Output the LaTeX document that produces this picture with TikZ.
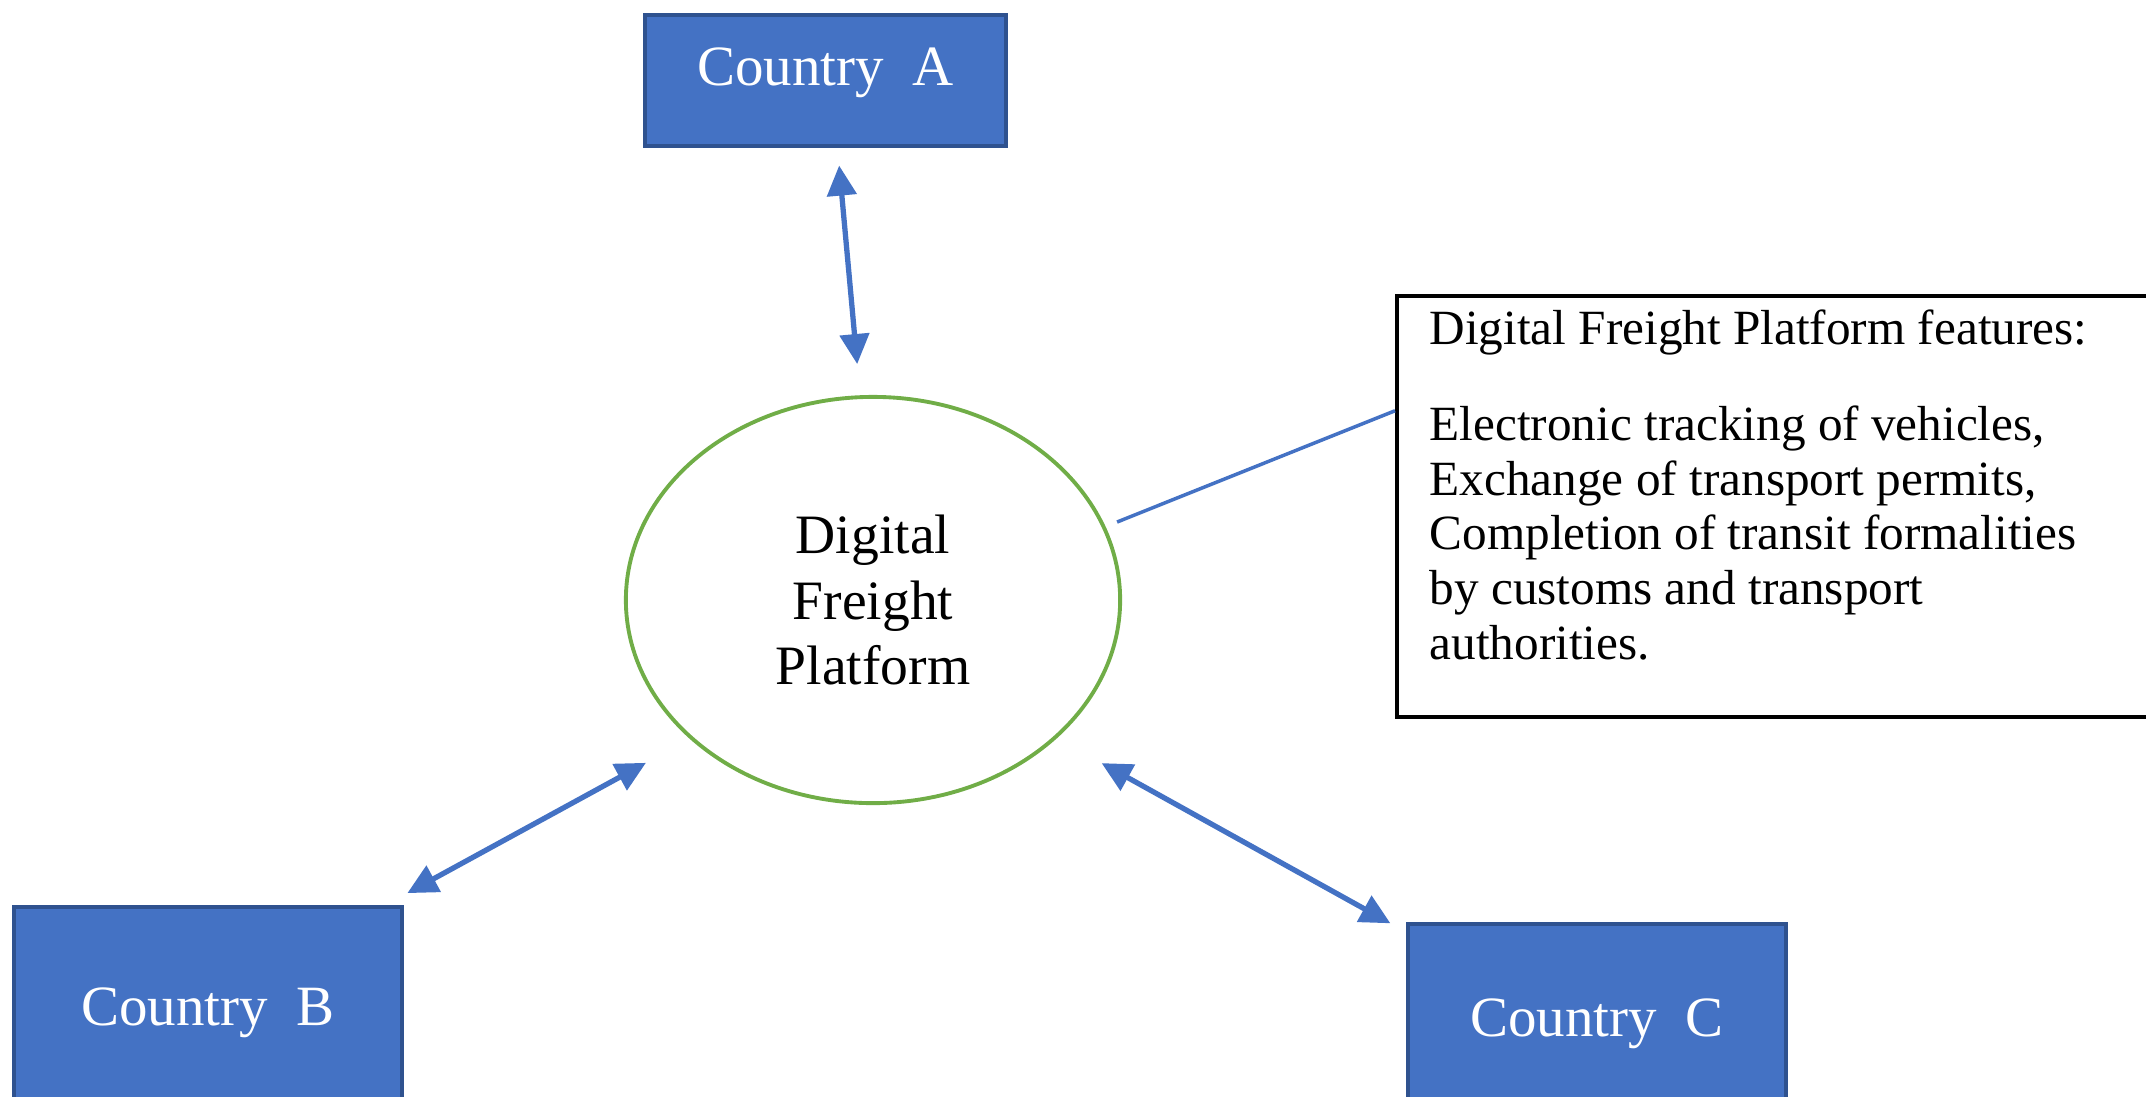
\documentclass[tikz,border=0pt]{standalone}
\usepackage{fontspec}
\setmainfont{Liberation Serif}
\usetikzlibrary{shapes.geometric, arrows.meta}
\definecolor{officeblue}{HTML}{4472C4}
\definecolor{boxline}{HTML}{2F528F}
\definecolor{platgreen}{HTML}{70AD47}

\begin{document}
\begin{tikzpicture}[x=0.01cm, y=-0.01cm,
  country/.style={draw=boxline, line width=1pt, fill=officeblue, text=white, anchor=north,
    inner sep=0pt, font=\fontsize{16.2}{19}\selectfont, text height=11pt, text depth=8pt},
  twoway/.style={officeblue, line width=1.5pt,
    {Triangle[length=0.3cm, width=0.29cm]}-{Triangle[length=0.3cm, width=0.29cm]}},
  link/.style={officeblue, line width=1pt}]
\useasboundingbox (0,0) rectangle (2146,1096);

% the three countries
\node[country, minimum width=3.61cm, minimum height=1.31cm] (ctyA) at (825.5,13) {Country\ \ A};
\node[country, minimum width=3.88cm, minimum height=2.27cm] (ctyB) at (208,905) {Country\ \ B};
\node[country, minimum width=3.78cm, minimum height=2.15cm] (ctyC) at (1597,922) {Country\ \ C};

% the platform
\node[ellipse, draw=platgreen, line width=1.1pt, minimum width=4.94cm, minimum height=4.06cm,
  inner sep=0pt, align=center, font=\fontsize{15.8}{18.5}\selectfont] (platform) at (873,600)
  {Digital\\Freight\\Platform};

% features box
\node[draw, line width=1.2pt, anchor=north west, minimum width=7.6cm, minimum height=4.21cm] (feat) at (1395,294) {};
\node[anchor=north west, inner sep=0pt, align=left, font=\fontsize{14}{15.6}\selectfont] (feattext) at (1429,309)
  {Digital Freight Platform features:\\[0.41cm]Electronic tracking of vehicles,\\Exchange of transport permits,\\Completion of transit formalities\\by customs and transport\\authorities.};

\draw[twoway, shorten <=0.18cm, shorten >=0.31cm] ([shift={(12,0)}]ctyA.south) -- ([shift={(-13,0)}]platform.north);
\draw[twoway, shorten <=0.58cm, shorten >=0.04cm] ([shift={(0,-10)}]platform.south west) -- ([shift={(0,-10)}]ctyB.north east);
\draw[twoway, shorten <=0.60cm, shorten >=0.18cm] ([shift={(0,-11)}]platform.south east) -- ([shift={(0,10)}]ctyC.north west);
\draw[link] ([shift={(-5,-78)}]platform.east) -- ([shift={(0,-96)}]feat.west);
\end{tikzpicture}
\end{document}
